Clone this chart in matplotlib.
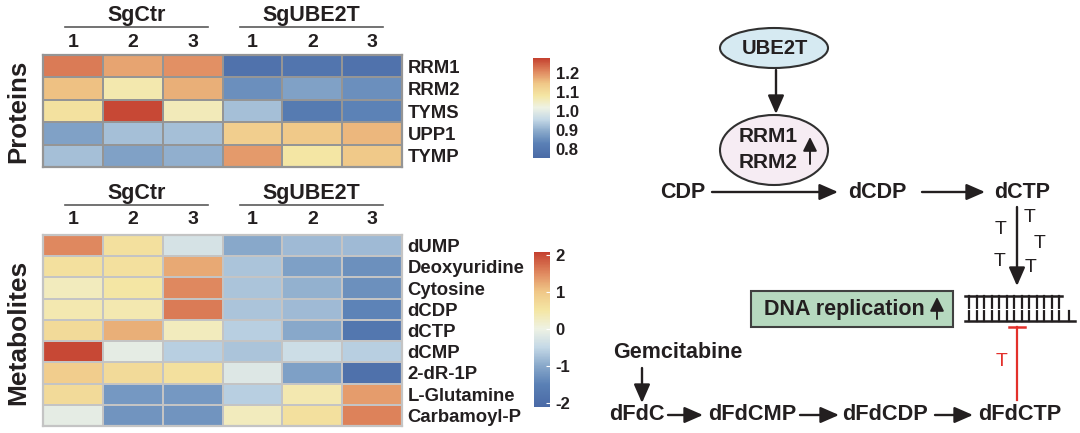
import numpy as np
import matplotlib.pyplot as plt
from matplotlib.colors import LinearSegmentedColormap, Normalize
from matplotlib.cm import ScalarMappable
from matplotlib.patches import Ellipse, Rectangle

plt.rcParams['font.family'] = ['Liberation Sans', 'DejaVu Sans']
plt.rcParams['font.weight'] = 'bold'

# dane
groups = ['SgCtr', 'SgUBE2T']
replicates = ['1', '2', '3', '1', '2', '3']

proteins = ['RRM1', 'RRM2', 'TYMS', 'UPP1', 'TYMP']
protein_vals = [
    [1.22, 1.18, 1.20, 0.78, 0.79, 0.78],
    [1.15, 1.07, 1.17, 0.85, 0.88, 0.85],
    [1.09, 1.27, 1.06, 0.92, 0.81, 0.83],
    [0.88, 0.92, 0.92, 1.13, 1.14, 1.16],
    [0.92, 0.88, 0.90, 1.19, 1.08, 1.14],
]
protein_ticks = [0.8, 0.9, 1.0, 1.1, 1.2]

metabolites = ['dUMP', 'Deoxyuridine', 'Cytosine', 'dCDP', 'dCTP', 'dCMP',
               '2-dR-1P', 'L-Glutamine', 'Carbamoyl-P']
metab_vals = [
    [1.5, 0.6, -0.3, -1.0, -0.8, -0.8],
    [0.6, 0.6, 1.25, -0.7, -1.1, -1.3],
    [0.3, 0.5, 1.5, -0.7, -0.9, -1.3],
    [0.4, 0.4, 1.6, -0.7, -0.8, -1.45],
    [0.7, 1.2, 0.3, -0.6, -1.0, -1.75],
    [2.0, -0.1, -0.6, -0.7, -0.4, -0.6],
    [0.9, 0.7, 0.6, -0.2, -1.1, -1.9],
    [0.7, -1.2, -1.2, -0.6, 0.4, 1.35],
    [-0.1, -1.25, -1.25, 0.3, 0.6, 1.55],
]
metab_ticks = [-2, -1, 0, 1, 2]

W, H = 1080, 433
dark = '#231f20'
cmap = LinearSegmentedColormap.from_list('rdylbu', [
    (0.0, '#4a6aa6'), (0.144, '#5a80b5'), (0.264, '#88a8ca'), (0.384, '#c4d8e6'),
    (0.504, '#eef2e4'), (0.623, '#f4e6a4'), (0.743, '#f0c888'), (0.863, '#e08a60'),
    (1.0, '#c4402f')])


def px(x0, y0, x1, y1):
    # prostokąt w pikselach (od góry) -> współrzędne figury
    return [x0 / W, 1 - y1 / H, (x1 - x0) / W, (y1 - y0) / H]


fig = plt.figure(figsize=(10.8, 4.33), dpi=100)


def heatmap(rect, vals, rows, vmin, vmax, edge, pad_top):
    a = fig.add_axes(px(*rect))
    a.pcolormesh(np.array(vals), cmap=cmap, vmin=vmin, vmax=vmax,
                 edgecolors=edge, linewidth=1.4)
    a.set_xlim(0, 6)
    a.set_ylim(len(rows), 0)
    a.set_xticks(np.arange(6) + 0.5, replicates, fontsize=14)
    a.set_yticks(np.arange(len(rows)) + 0.5, rows, fontsize=13.3)
    a.xaxis.tick_top()
    a.yaxis.tick_right()
    a.tick_params(axis='x', length=0, pad=pad_top, colors=dark)
    a.tick_params(axis='y', length=0, pad=4, colors=dark)
    for s in a.spines.values():
        s.set_color(edge)
        s.set_linewidth(1.6)
    return a


def colorbar(rect, vmin, vmax, ticks, tick_col, fmt):
    c = fig.add_axes(px(*rect))
    cb = fig.colorbar(ScalarMappable(Normalize(vmin, vmax), cmap), cax=c, ticks=ticks)
    cb.outline.set_visible(False)
    c.tick_params(length=3, width=0.8, direction='in', color=tick_col,
                  labelsize=12, pad=4, labelcolor=dark)
    c.set_yticklabels([fmt % t for t in ticks])


heatmap((43, 55, 402, 167), protein_vals, proteins, 0.75, 1.28, '#959595', 3)
heatmap((43, 235, 402, 426), metab_vals, metabolites, -2.1, 2.07, '#c4c4c4', 5)
colorbar((533, 58, 550, 158), 0.75, 1.28, protein_ticks, (1, 1, 1, 0), '%.1f')
colorbar((534, 252, 550, 407), -2.1, 2.07, metab_ticks, 'white', '%d')

# warstwa do rysowania w pikselach
ax = fig.add_axes([0, 0, 1, 1])
ax.set_xlim(0, W)
ax.set_ylim(H, 0)
ax.axis('off')
ax.patch.set_alpha(0)

# nagłówki grup nad heatmapami
for ytxt, yline in [(15, 27), (193, 205)]:
    for g, (x0, x1) in zip(groups, [(65, 208), (240, 383)]):
        ax.text((x0 + x1) / 2, ytxt, g, ha='center', va='center', fontsize=15.5, color=dark)
        ax.plot([x0, x1], [yline, yline], color='#5a5a5a', lw=1.2)

ax.text(18, 111, 'Proteins', rotation=90, ha='center', va='center', fontsize=18.5, color=dark)
ax.text(18, 332, 'Metabolites', rotation=90, ha='center', va='center', fontsize=19, color=dark)


def arrow(x0, y0, x1, y1, color=dark, lw=1.7, hl=0.8, hw=0.35):
    ax.annotate('', xy=(x1, y1), xytext=(x0, y0),
                arrowprops=dict(arrowstyle='-|>,head_length=%s,head_width=%s' % (hl, hw),
                                color=color, lw=lw, shrinkA=0, shrinkB=0, mutation_scale=14))


# szlak metaboliczny
ax.add_patch(Ellipse((774, 48), 108, 40, facecolor='#d6eaf2', edgecolor='#303030', lw=1.5))
ax.text(775, 49, 'UBE2T', ha='center', va='center', fontsize=14.6, color=dark)
arrow(776, 70, 776, 114)
ax.add_patch(Ellipse((774, 150), 108, 70, facecolor='#f6ecf3', edgecolor='#303030', lw=1.5))
ax.text(768, 137, 'RRM1', ha='center', va='center', fontsize=15, color=dark)
ax.text(768, 163, 'RRM2', ha='center', va='center', fontsize=15, color=dark)
arrow(810, 164, 810, 137, lw=1.4, hl=0.6, hw=0.3)

ax.text(683, 192, 'CDP', ha='center', va='center', fontsize=15.5, color=dark)
arrow(712, 192, 838, 192)
ax.text(877, 192, 'dCDP', ha='center', va='center', fontsize=15.5, color=dark)
arrow(922, 192, 985, 192)
ax.text(1022, 192, 'dCTP', ha='center', va='center', fontsize=15.5, color=dark)

arrow(1017, 207, 1017, 286)
for tx, ty in [(1001, 230), (1030, 218), (1040, 244), (1000, 262), (1031, 268)]:
    ax.text(tx, ty, 'T', ha='center', va='center', fontsize=14, fontweight='normal', color=dark)

ax.add_patch(Rectangle((751, 291), 202, 36, facecolor='#b6d9bf', edgecolor='#404040', lw=1.5))
ax.text(844, 309, 'DNA replication', ha='center', va='center', fontsize=15.5, color=dark)
arrow(937, 319, 937, 297, lw=1.4, hl=0.6, hw=0.3)

# drabinka DNA
ax.plot([965, 1062], [296, 296], color=dark, lw=1.8)
ax.plot([965, 1075], [321, 321], color=dark, lw=1.8)
for rx in np.linspace(969, 1059, 13):
    ax.plot([rx, rx], [296, 321], color=dark, lw=1.6)
ax.plot([1069, 1069], [311, 321], color=dark, lw=1.6)
ax.plot([966, 1062], [308.5, 308.5], color='white', lw=0.8)

# hamowanie (czerwone)
red = '#e3302b'
ax.plot([1017, 1017], [400, 327], color=red, lw=1.6)
ax.plot([1009, 1025], [327, 327], color=red, lw=1.8)
ax.text(1002, 362, 'T', ha='center', va='center', fontsize=14, fontweight='normal', color=red)

ax.text(678, 353, 'Gemcitabine', ha='center', va='center', fontsize=15.5, color=dark)
arrow(642, 368, 642, 403)
for name, xc in [('dFdC', 637), ('dFdCMP', 752), ('dFdCDP', 885), ('dFdCTP', 1020)]:
    ax.text(xc, 415, name, ha='center', va='center', fontsize=15.7, color=dark)
for x0, x1 in [(668, 703), (800, 839), (935, 973)]:
    arrow(x0, 415, x1, 415)

fig.savefig('out.png', dpi=100)
